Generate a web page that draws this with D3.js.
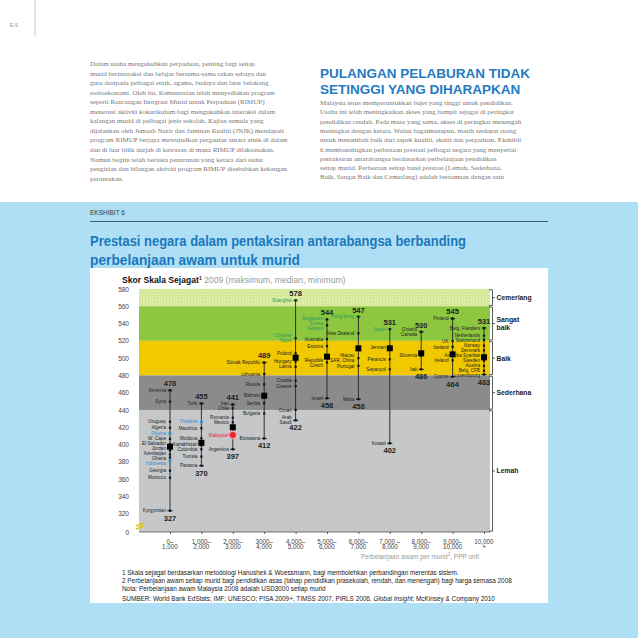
<!DOCTYPE html>
<html><head><meta charset="utf-8">
<script src="https://cdn.jsdelivr.net/npm/d3@7"></script>
<style>body{margin:0;background:#fff}svg{display:block}</style>
</head><body>
<svg id="c" width="638" height="638"></svg>
<script>
// ---------- data ----------
const categories = ["0–|1,000","1,000–|2,000","2,000–|3,000","3000–|4,000","4,000–|5,000","5,000–|6,000","6,000–|7,000","7,000 –|8,000","8,000–|9,000","9,000–|10,000","10,000|+"];
const maxLabels = [478, 455, 441, 489, 578, 544, 547, 531, 530, 545, 531];
const minLabels = [327, 370, 397, 412, 422, 458, 458, 402, 486, 464, 483];
const medianScores = [397.5, 402, 420, 456.5, 500.5, 501.7, 511.3, 511.4, 505.6, 504.4, 501];
// country name, score, highlight group (g = East Asia, b = ASEAN, r = Malaysia)
const col0 = [["Armenia",463],["Syria",449.6],["Uruguay",426.4],["Algeria",419.5],["Filipina",413,"b"],["W. Cape",406.4],["El Salvador",400.6],["Jordan",392.9],["Azerbaijan",388.5],["Ghana",385],["Indonesia",381,"b"],["Georgia",369.7],["Morocco",361.6],["Kyrgyzstan",323.4]];
const col1 = [["Turki",447.7],["Thailand",426.4,"b"],["Mauritius",418.8],["Moldova",407.2],["Kazakhstan",399],["Colombia",394.5],["Tunisia",386],["Panama",375.5]];
const col2 = [["Iran",446.5],["Chile",442],["Romania",431],["Mexico",425.7],["Malaysia²",411,"r"],["Argentina",394.5]];
const col3 = [["Slovak Republic",495],["Lithuania",481.6],["Russia",469.7],["Bahrain",456.5],["Serbia",447.7],["Bulgaria",436],["Botswana",407]];
const col4 = [["Shanghai",567,"g"],["Chinese|Taipei",523,"g"],["Poland",505.6],["Hungary",496],["Latvia",490],["Croatia",474],["Greece",467.7],["Oman",440],["Arab|Saudi",428]];
const col5 = [["Singapore",545,"g"],["Korea|Selatan",538,"g"],["Australia",522],["Estonia",514],["Republik|Czech",495],["Israel",453.5]];
const col6 = [["Hong Kong",548,"g"],["New Zealand",528.7],["Macau|SAR, China",500],["Portugal",491],["Malta",452.5]];
const col7 = [["Japan",533.7,"g"],["Jerman",512.5],["Perancis",498.6],["Sepanyol",487],["Kuwait",401.4]];
const col8 = [["Ontario|Canada",530.6],["Slovenia",502.8],["Itali",487]];
const col9 = [["Finland",546],["UK",519.8],["Iceland",513],["Ireland",497.5],["Cyprus",478.5]];
const col10 = [["Belg. Flanders",535],["Netherlands",526],["Switzerland",521],["Norway",514.4],["Denmark",509],["Amerika Syarikat",502.8],["Sweden",497],["Austria",491],["Belg. CFB",485.5],["Luxembourg",481]];
const columns = [col0,col1,col2,col3,col4,col5,col6,col7,col8,col9,col10];
const yTicks = [0,320,340,360,380,400,420,440,460,480,500,520,540,560,580];
const bandNames = ["Cemerlang","Sangat|baik","Baik","Sederhana","Lemah"];
const bandTop = [580,560,520,480,440];
const bandBottom = [560,520,480,440,0];
const bandColors = ["url(#hatch)","#8dc63f","#f1c900","#8b8b8c","#c6c7c9"];

const leftPara = ["Dalam usaha mengukuhkan perpaduan, penting bagi setiap","murid berinteraksi dan belajar bersama-sama rakan sebaya dan","guru daripada pelbagai etnik, agama, budaya dan latar belakang","sosioekonomi. Oleh itu, Kementerian telah menyediakan program","seperti Rancangan Integrasi Murid untuk Perpaduan (RIMUP)","menerusi aktiviti kokurikulum bagi mengukuhkan interaksi dalam","kalangan murid di pelbagai jenis sekolah. Kajian semula yang","dijalankan oleh Jemaah Nazir dan Jaminan Kualiti (JNJK) mendapati","program RIMUP berjaya mewujudkan pergaulan antara etnik di dalam","dan di luar bilik darjah di kawasan di mana RIMUP dilaksanakan.","Namun begitu telah berlaku penurunan yang ketara dari sudut","pengisian dan bilangan aktiviti program RIMUP disebabkan kekangan","peruntukan."];
const rightPara = ["Malaysia terus memperuntukkan bajet yang tinggi untuk pendidikan.","Usaha ini telah meningkatkan akses yang hampir sejagat di peringkat","pendidikan rendah. Pada masa yang sama, akses di peringkat menengah","meningkat dengan ketara. Walau bagaimanapun, masih terdapat ruang","untuk menambah baik dari aspek kualiti, ekuiti dan perpaduan. Ekshibit","6 membandingkan perbezaan prestasi pelbagai negara yang menyertai","pentaksiran antarabangsa berdasarkan perbelanjaan pendidikan","setiap murid. Perbezaan setiap band prestasi (Lemah, Sederhana,","Baik, Sangat Baik dan Cemerlang) adalah bersamaan dengan satu"];
const footnotes = ["1 Skala sejagat berdasarkan metodologi Hanushek & Woessmann, bagi membolehkan perbandingan merentas sistem.","2 Perbelanjaan awam setiap murid bagi pendidikan asas (tahap pendidikan prasekolah, rendah, dan menengah) bagi harga semasa 2008","Nota: Perbelanjaan awam Malaysia 2008 adalah USD3000 setiap murid"];

// ---------- drawing ----------
const svg = d3.select("#c");
const sans = "'Liberation Sans', Arial, sans-serif";
const serif = "'Liberation Serif', 'DejaVu Serif', serif";
const groupColor = {g:"#2a9a68", b:"#2d8fd5", r:"#e3262b"};

const defs = svg.append("defs");
const pat = defs.append("pattern").attr("id","hatch").attr("patternUnits","userSpaceOnUse").attr("width",3).attr("height",3);
pat.append("rect").attr("width",3).attr("height",3).attr("fill","#cbe384");
pat.append("path").attr("d","M0,0L3,3M3,0L0,3").attr("stroke","#e9f3c0").attr("stroke-width",0.7);

// page top
svg.append("line").attr("x1",35).attr("x2",35).attr("y1",0).attr("y2",36).attr("stroke","#bbb").attr("stroke-width",0.8);
svg.append("text").attr("x",10).attr("y",27).attr("font-family",sans).attr("font-size",5).attr("fill","#999").text("E-9");

svg.append("g").selectAll("text").data(leftPara).join("text")
  .attr("x",90).attr("y",(d,i)=>66+i*9.55).attr("font-family",serif).attr("font-size",7).attr("fill","#777").text(d=>d);
svg.append("text").attr("x",320).attr("y",78).attr("font-family",sans).attr("font-weight","bold").attr("font-size",13.5).attr("fill","#1f7bc2").text("PULANGAN PELABURAN TIDAK");
svg.append("text").attr("x",320).attr("y",94).attr("font-family",sans).attr("font-weight","bold").attr("font-size",13.5).attr("fill","#1f7bc2").text("SETINGGI YANG DIHARAPKAN");
svg.append("g").selectAll("text").data(rightPara).join("text")
  .attr("x",320).attr("y",(d,i)=>105+i*9.3).attr("font-family",serif).attr("font-size",7).attr("fill","#777").text(d=>d);

// blue area
svg.append("rect").attr("x",0).attr("y",202).attr("width",638).attr("height",436).attr("fill","#afdff4");
svg.append("text").attr("x",90).attr("y",215).attr("font-family",sans).attr("font-size",6.5).attr("fill","#2b3a45").text("EKSHIBIT 6");
svg.append("line").attr("x1",90).attr("x2",548).attr("y1",221.5).attr("y2",221.5).attr("stroke","#2b3a45").attr("stroke-width",0.8);
svg.append("text").attr("x",90).attr("y",246).attr("font-family",sans).attr("font-weight","bold").attr("font-size",14.5).attr("fill","#1b78bd")
  .attr("textLength",376).attr("lengthAdjust","spacingAndGlyphs").text("Prestasi negara dalam pentaksiran antarabangsa berbanding");
svg.append("text").attr("x",90).attr("y",265).attr("font-family",sans).attr("font-weight","bold").attr("font-size",14.5).attr("fill","#1b78bd")
  .attr("textLength",210).attr("lengthAdjust","spacingAndGlyphs").text("perbelanjaan awam untuk murid");
svg.append("rect").attr("x",90).attr("y",268).attr("width",458).attr("height",335).attr("fill","#fff");

const hdr = svg.append("text").attr("x",122).attr("y",283).attr("font-family",sans).attr("font-size",8.6);
hdr.append("tspan").attr("font-weight","bold").attr("fill","#111").text("Skor Skala Sejagat");
hdr.append("tspan").attr("font-weight","bold").attr("fill","#111").attr("font-size",5).attr("dy",-3).text("1");
hdr.append("tspan").attr("fill","#999").attr("dy",3).text(" 2009 (maksimum, median, minimum)");

// scales
const X0 = 139, X1 = 490;
const x = d3.scalePoint().domain(categories).range([170,484]);
const y = d3.scaleLinear().domain([0,310,580]).range([532,522.3,289]);

// bands
svg.append("g").selectAll("rect").data(bandNames).join("rect")
  .attr("x",X0).attr("width",X1-X0)
  .attr("y",(d,i)=>y(bandTop[i])).attr("height",(d,i)=>y(bandBottom[i])-y(bandTop[i]))
  .attr("fill",(d,i)=>bandColors[i]);

// break symbol
svg.append("path").attr("d","M136,526 l8,-3 M136,529 l8,-3").attr("stroke","#e8c400").attr("stroke-width",1.6);

// y axis
const ya = svg.append("g").attr("transform",`translate(${X0-10},0)`).call(d3.axisLeft(y).tickValues(yTicks).tickSize(0).tickPadding(0));
ya.select(".domain").remove();
ya.selectAll("text").attr("font-family",sans).attr("font-size",6.5).attr("fill","#444");

// x axis
const xa = svg.append("g").attr("transform","translate(0,532)").call(d3.axisBottom(x).tickSize(2).tickFormat(""));
xa.select(".domain").attr("d",`M${X0},0H${X1}`).attr("stroke","#555").attr("stroke-width",0.8);
xa.selectAll(".tick line").attr("stroke","#555");
const xl = svg.append("g").selectAll("text").data(categories).join("text")
  .attr("x",d=>x(d)).attr("text-anchor","middle").attr("font-family",sans).attr("font-size",6.3).attr("fill","#444");
xl.each(function(d){
  const parts = d.split("|"); const t = d3.select(this);
  parts.forEach((p,k)=>t.append("tspan").attr("x",x(d)).attr("y",543.5+k*5.5).text(p));
});
const xt = svg.append("text").attr("x",479).attr("y",559).attr("text-anchor","end").attr("font-family",sans).attr("font-size",6.5).attr("fill","#9a9a9a");
xt.append("tspan").text("Perbelanjaan awam per murid");
xt.append("tspan").attr("font-size",4.5).attr("dy",-3).text("2");
xt.append("tspan").attr("dy",3).text(", PPP unit");

// label collision relaxation (layout only)
function relax(items, lineH){
  items.sort((a,b)=>a.y-b.y);
  for (let it=0; it<80; it++){
    let moved=false;
    for (let k=0;k<items.length-1;k++){
      const a=items[k], b=items[k+1];
      const need=(a.n+b.n)*lineH/2;
      const d=b.y-a.y;
      if (d<need-0.01){ const s=(need-d)/2; a.y-=s; b.y+=s; moved=true; }
    }
    if(!moved) break;
  }
}

// columns
const LH = 5;
columns.forEach((pts,i)=>{
  const cx = x(categories[i]);
  const g = svg.append("g");
  const vals = pts.map(p=>p[1]);
  const top = d3.max(vals), bot = d3.min(vals);
  const topGroup = pts.find(p=>p[1]===top)[2];
  const capColor = topGroup==="g" ? groupColor.g : "#222";
  g.append("line").attr("x1",cx).attr("x2",cx).attr("y1",y(top)).attr("y2",y(bot)).attr("stroke","#222").attr("stroke-width",0.9);
  g.append("path").attr("d",`M${cx-2.5},${y(top)}H${cx+2.5}M${cx-1.5},${y(top)+1.5}L${cx},${y(top)}L${cx+1.5},${y(top)+1.5}`).attr("stroke",capColor).attr("fill","none").attr("stroke-width",0.9);
  g.append("path").attr("d",`M${cx-2.5},${y(bot)}H${cx+2.5}`).attr("stroke","#222").attr("stroke-width",1.1);
  const labels = [];
  pts.forEach(p=>{
    const py = y(p[1]);
    if (p[2]==="r") {
      g.append("circle").attr("cx",cx).attr("cy",py).attr("r",4.2).attr("fill","#f3a0a0");
      g.append("circle").attr("cx",cx).attr("cy",py).attr("r",3).attr("fill",groupColor.r);
    } else if (p[2]==="b") {
      g.append("circle").attr("cx",cx).attr("cy",py).attr("r",1.6).attr("fill",groupColor.b);
    } else {
      g.append("rect").attr("x",cx-1.1).attr("y",py-1.1).attr("width",2.2).attr("height",2.2).attr("fill","#111");
    }
    const lines = p[0].split("|");
    labels.push({lines, n:lines.length, y:py, col: p[2] ? groupColor[p[2]] : "#222"});
  });
  relax(labels, LH);
  labels.forEach(L=>{
    L.lines.forEach((l,k)=>{
      g.append("text").attr("x",cx-4).attr("y",L.y + (k - (L.n-1)/2)*LH).attr("dy","0.35em")
        .attr("text-anchor","end").attr("font-family",sans).attr("font-size",4.7)
        .attr("fill",L.col).text(l);
    });
  });
  g.append("rect").attr("x",cx-3).attr("y",y(medianScores[i])-3).attr("width",6).attr("height",6).attr("fill","#000");
  g.append("text").attr("x",cx).attr("y",y(top)-4).attr("text-anchor","middle").attr("font-family",sans).attr("font-weight","bold").attr("font-size",7.5).attr("fill","#222").text(maxLabels[i]);
  g.append("text").attr("x",cx).attr("y",y(bot)+10).attr("text-anchor","middle").attr("font-family",sans).attr("font-weight","bold").attr("font-size",7.5).attr("fill","#222").text(minLabels[i]);
});

// right brackets
bandNames.forEach((n,i)=>{
  const t = y(bandTop[i])+0.8, b = y(bandBottom[i])-0.8, m = (t+b)/2;
  svg.append("path").attr("d",`M${X1-1},${t}H${X1+2.5}V${b}H${X1-1}M${X1+2.5},${m}H${X1+5}`).attr("stroke","#333").attr("fill","none").attr("stroke-width",0.8);
  const parts = n.split("|");
  parts.forEach((p,k)=>svg.append("text").attr("x",X1+6.5).attr("y",m+(k-(parts.length-1)/2)*7.5).attr("dy","0.35em")
    .attr("font-family",sans).attr("font-weight","bold").attr("font-size",6.8).attr("fill","#222").text(p));
});

// footnotes
svg.append("g").selectAll("text").data(footnotes).join("text")
  .attr("x",122).attr("y",(d,i)=>575+i*8.2).attr("font-family",sans).attr("font-size",6.4).attr("fill","#222").text(d=>d);
const src = svg.append("text").attr("x",122).attr("y",601).attr("font-family",sans).attr("font-size",6.4).attr("fill","#222");
src.append("tspan").text("SUMBER: World Bank EdStats; IMF; UNESCO; PISA 2009+, TIMSS 2007, PIRLS 2006, ");
src.append("tspan").attr("font-style","italic").text("Global Insight");
src.append("tspan").text("; McKinsey & Company 2010");
</script>
</body></html>
